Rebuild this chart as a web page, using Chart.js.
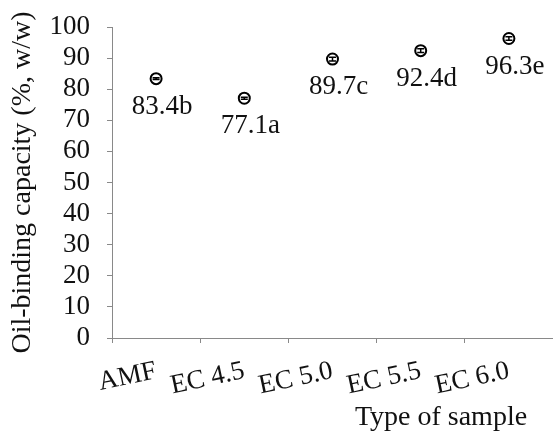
<!DOCTYPE html>
<html>
<head>
<meta charset="utf-8">
<script src="https://cdn.jsdelivr.net/npm/chart.js@4.4.1/dist/chart.umd.min.js"></script>
<style>
	body { margin: 0; background: #fff; }
	#wrap { width: 553px; height: 436px; position: relative; }
</style>
</head>
<body>
<div id="wrap"><canvas id="myChart"></canvas></div>
<script>
const categories = ["AMF", "EC 4.5", "EC 5.0", "EC 5.5", "EC 6.0"];
const capacity = [83.4, 77.1, 89.7, 92.4, 96.3];
const letters = ["b", "a", "c", "d", "e"];
const errors = [0.3, 0.3, 0.6, 0.6, 0.6];
const yMin = 0;
const yMax = 100;
const yStep = 10;

const serif = "'Liberation Serif', 'Times New Roman', serif";
const axisGray = "#898989";
const textColor = "#111";

// error bars drawn over the hollow markers
const errorBars = {
	id: "errorBars",
	afterDatasetsDraw(chart) {
		const ctx = chart.ctx;
		const yScale = chart.scales.y;
		const points = chart.getDatasetMeta(0).data;
		ctx.save();
		ctx.strokeStyle = "#000";
		ctx.lineWidth = 1.5;
		points.forEach((pt, i) => {
			const top = yScale.getPixelForValue(capacity[i] + errors[i]);
			const bottom = yScale.getPixelForValue(capacity[i] - errors[i]);
			ctx.beginPath();
			ctx.moveTo(pt.x, top);
			ctx.lineTo(pt.x, bottom);
			ctx.moveTo(pt.x - 3.5, top);
			ctx.lineTo(pt.x + 3.5, top);
			ctx.moveTo(pt.x - 3.5, bottom);
			ctx.lineTo(pt.x + 3.5, bottom);
			ctx.stroke();
		});
		ctx.restore();
	},
};

// value + significance letter under each point
const valueLabels = {
	id: "valueLabels",
	afterDatasetsDraw(chart) {
		const ctx = chart.ctx;
		const points = chart.getDatasetMeta(0).data;
		ctx.save();
		ctx.font = `27px ${serif}`;
		ctx.fillStyle = textColor;
		ctx.textAlign = "center";
		ctx.textBaseline = "middle";
		points.forEach((pt, i) => {
			ctx.fillText(capacity[i].toFixed(1) + letters[i], pt.x + 6, pt.y + 28);
		});
		ctx.restore();
	},
};

// x title sits under the right part of the axis
const xTitle = {
	id: "xTitle",
	afterDraw(chart) {
		const ctx = chart.ctx;
		const area = chart.chartArea;
		ctx.save();
		ctx.font = `28px ${serif}`;
		ctx.fillStyle = textColor;
		ctx.textAlign = "center";
		ctx.textBaseline = "middle";
		ctx.fillText("Type of sample", area.right - 112, 418);
		ctx.restore();
	},
};

function initChart() {
	const ctx = document.getElementById("myChart");

	return new Chart(ctx, {
		type: "line",
		data: {
			labels: categories,
			datasets: [
				{
					label: "Oil-binding capacity",
					data: capacity,
					showLine: false,
					pointStyle: "circle",
					pointRadius: 5.5,
					pointBorderWidth: 2,
					pointBorderColor: "#000",
					pointBackgroundColor: "#fff",
				},
			],
		},
		options: {
			responsive: true,
			maintainAspectRatio: false,
			animation: false,
			layout: {
				autoPadding: false,
				padding: { top: 27, left: 0, right: 0, bottom: 0 },
			},
			plugins: {
				legend: { display: false },
				tooltip: { enabled: false },
			},
			scales: {
				x: {
					offset: true,
					grid: {
						offset: true,
						drawOnChartArea: false,
						drawTicks: true,
						tickLength: 5,
						color: axisGray,
					},
					border: { color: axisGray },
					ticks: {
						color: textColor,
						font: { family: serif, size: 27 },
						minRotation: 12,
						maxRotation: 12,
						autoSkip: false,
						padding: 12,
					},
					afterFit(scale) {
						scale.height = 98;
						scale.paddingLeft = 0;
						scale.paddingRight = 0;
					},
				},
				y: {
					min: yMin,
					max: yMax,
					grid: {
						drawOnChartArea: false,
						drawTicks: true,
						tickLength: 5,
						color: axisGray,
					},
					border: { color: axisGray },
					ticks: {
						stepSize: yStep,
						autoSkip: false,
						color: textColor,
						font: { family: serif, size: 27 },
						padding: 17,
					},
					title: {
						display: true,
						text: "Oil-binding capacity (%, w/w)",
						color: textColor,
						font: { family: serif, size: 28 },
						padding: { top: 6, bottom: 0 },
					},
					afterFit(scale) {
						scale.width = 112;
						scale.paddingTop = 0;
						scale.paddingBottom = 0;
					},
				},
			},
		},
		plugins: [errorBars, valueLabels, xTitle],
	});
}

initChart();
</script>
</body>
</html>
